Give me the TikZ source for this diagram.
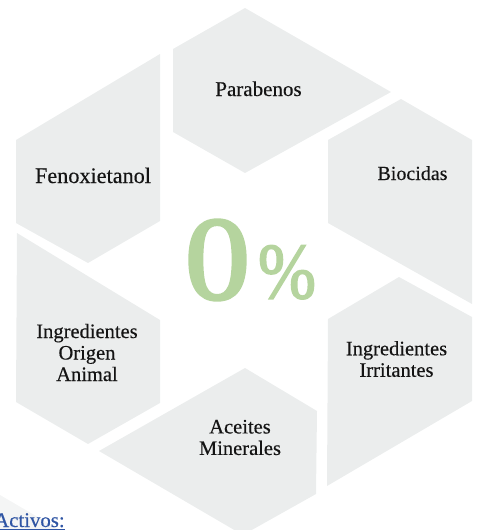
\documentclass[tikz,border=0pt]{standalone}
\usepackage{fontspec}
\setmainfont{Liberation Serif}[FakeBold=0.35]
\newfontfamily\heavyzero{Liberation Serif}[FakeBold=2.6]
\newfontfamily\heavypct{Liberation Serif}[FakeBold=2.2]
\definecolor{hexgray}{HTML}{EBEDED}
\definecolor{hexfaint}{HTML}{F4F5F5}
\definecolor{zerogreen}{HTML}{B5D49E}
\definecolor{linkblue}{HTML}{2F55A4}
\tikzset{
  hexa/.style={fill=hexgray,draw=none},
  label/.style={inner sep=0pt,outer sep=0pt,text=black!92,align=center,font=\fontsize{20.5}{21.5}\selectfont},
  bigzero/.style={inner sep=0pt,text=zerogreen,anchor=base,font=\heavyzero\fontsize{119}{119}\selectfont,xscale=1.09},
  bigpct/.style={inner sep=0pt,text=zerogreen,anchor=base,font=\heavypct\fontsize{79}{79}\selectfont,xscale=.88}
}
\begin{document}
\begin{tikzpicture}[x=1pt,y=-1pt]
\useasboundingbox (0,0) rectangle (478,530);
\clip (0,0) rectangle (478,530);
% faint hexagon at the lower left
\fill[hexfaint] (0,495) -- (60,530) -- (0,530) -- cycle;
% six hexagons
\fill[hexa] (245,8) -- (391,92) -- (245,173) -- (173,132) -- (173,49) -- cycle;
\fill[hexa] (401,99) -- (472,140) -- (472,304) -- (328,223) -- (328,140) -- cycle;
\fill[hexa] (399,277) -- (472,317) -- (472,401) -- (327,486) -- (328,319) -- cycle;
\fill[hexa] (245,368) -- (317,411) -- (316,494) -- (250,531) -- (236,531) -- (99,451) -- cycle;
\fill[hexa] (17,233) -- (160,320) -- (160,403) -- (88,444) -- (16,402) -- cycle;
\fill[hexa] (160,54) -- (160,221) -- (88,263) -- (16,223) -- (16,140) -- cycle;
% labels
\node[label,anchor=base] (parabenos) at (258.5,96) {\fontsize{21}{22}\selectfont Parabenos};
\node[label,anchor=base] (biocidas) at (412.5,180) {\fontsize{20}{21}\selectfont Biocidas};
\node[label,anchor=base] (fenoxi) at (93,183) {\fontsize{22.2}{23}\selectfont Fenoxietanol};
\node[label] (irritantes) at (396.5,359) {Ingredientes\\Irritantes};
\node[label] (origen) at (87,352.5) {Ingredientes\\Origen\\Animal};
\node[label] (aceites) at (240,437.5) {Aceites\\Minerales};
\node[bigzero] (zero) at (217.5,299) {0};
\node[bigpct] (pct) at (287,298) {\%};
\node[inner sep=0pt,anchor=base west,text=linkblue,font=\fontsize{20.8}{21}\selectfont] (activos) at (-6,527) {\underline{Activos:}};
\end{tikzpicture}
\end{document}
